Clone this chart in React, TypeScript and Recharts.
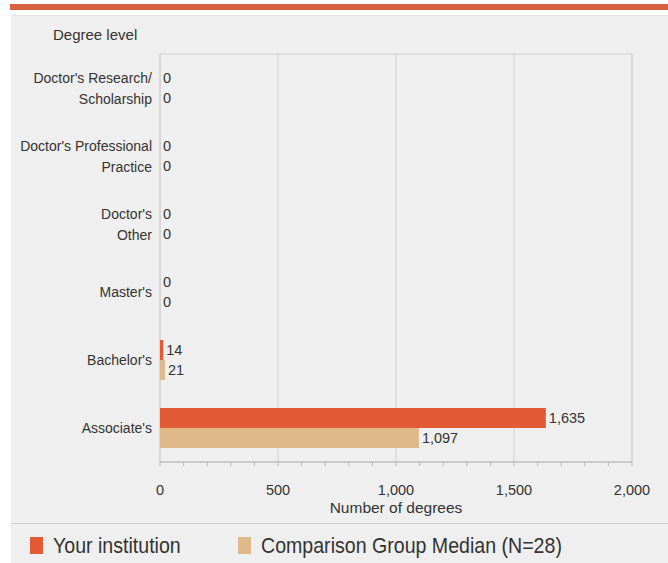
import {
  BarChart,
  Bar,
  XAxis,
  YAxis,
  CartesianGrid,
  ReferenceArea,
  LabelList,
  Legend,
} from "recharts";

// Degree levels, top to bottom
const categories = [
  "Doctor's Research/\nScholarship",
  "Doctor's Professional\nPractice",
  "Doctor's\nOther",
  "Master's",
  "Bachelor's",
  "Associate's",
];
const yourInstitution = [0, 0, 0, 0, 14, 1635];
const comparisonMedian = [0, 0, 0, 0, 21, 1097];

const majorTicks = [0, 500, 1000, 1500, 2000];
const minorTicks = [
  0, 100, 200, 300, 400, 500, 600, 700, 800, 900, 1000, 1100, 1200, 1300, 1400,
  1500, 1600, 1700, 1800, 1900, 2000,
];

const seriesNames = ["Your institution", "Comparison Group Median (N=28)"];
const ORANGE = "#E25B35";
const TAN = "#DFB98A";
const FONT = "'Liberation Sans', Arial, sans-serif";

const data = categories.map((name, i) => ({
  name,
  yours: yourInstitution[i],
  median: comparisonMedian[i],
}));

const fmt = (v: any) => Number(v).toLocaleString("en-US");

function CategoryTick({ x, y, payload }: any) {
  const lines = String(payload.value).split("\n");
  const lh = 21;
  const start = -((lines.length - 1) * lh) / 2;
  return (
    <text
      x={x}
      y={y}
      textAnchor="end"
      fill="#333"
      fontSize={14}
      fontFamily={FONT}
    >
      {lines.map((l, i) => (
        <tspan key={i} x={x} dy={i === 0 ? start + 5 : lh}>
          {l}
        </tspan>
      ))}
    </text>
  );
}

function LegendBox() {
  // legend text in the reference is condensed, so squeeze it horizontally
  const items = [
    { name: seriesNames[0], color: ORANGE, left: 19 },
    { name: seriesNames[1], color: TAN, left: 227 },
  ];
  return (
    <div
      style={{
        position: "relative",
        borderTop: "1px solid #cfcfcf",
        height: 39,
        fontFamily: FONT,
        fontSize: 22,
        color: "#333",
      }}
    >
      {items.map((it) => (
        <div
          key={it.name}
          style={{
            position: "absolute",
            left: it.left,
            top: 13,
            display: "flex",
            alignItems: "center",
          }}
        >
          <div
            style={{
              width: 13,
              height: 17,
              background: it.color,
              marginRight: 10,
            }}
          />
          <span
            style={{
              display: "inline-block",
              whiteSpace: "nowrap",
              transform: "scaleX(0.89)",
              transformOrigin: "left center",
              lineHeight: "17px",
            }}
          >
            {it.name}
          </span>
        </div>
      ))}
    </div>
  );
}

export default function App() {
  return (
    <div
      style={{
        position: "absolute",
        left: 0,
        top: 0,
        width: 668,
        height: 563,
        background: "#fff",
        overflow: "hidden",
      }}
    >
      {/* top accent band */}
      <div
        style={{
          position: "absolute",
          left: 10,
          top: 4,
          width: 658,
          height: 6,
          background: "#D9603C",
        }}
      />
      {/* panel */}
      <div
        style={{
          position: "absolute",
          left: 11,
          top: 15,
          width: 657,
          height: 548,
          background: "#efefef",
          borderTop: "1px solid #e2e2e2",
        }}
      />
      <div
        style={{
          position: "absolute",
          left: 53,
          top: 26,
          fontFamily: FONT,
          fontSize: 15,
          color: "#333",
        }}
      >
        Degree level
      </div>
      <div style={{ position: "absolute", left: 0, top: 0 }}>
        <BarChart
          width={668}
          height={563}
          data={data}
          layout="vertical"
          margin={{ top: 54, right: 36, left: 0, bottom: 0 }}
          barGap={0}
          barSize={20}
        >
          <CartesianGrid
            horizontal={false}
            verticalValues={majorTicks}
            stroke="#cfcfcf"
          />
          <ReferenceArea
            x1={0}
            x2={2000}
            stroke="#cfcfcf"
            fill="none"
            ifOverflow="extendDomain"
          />
          <XAxis
            type="number"
            domain={[0, 2000]}
            ticks={minorTicks}
            interval={0}
            tickFormatter={(v) => (majorTicks.includes(v) ? fmt(v) : "")}
            tickSize={4}
            tickMargin={19}
            height={61}
            stroke="#b5b5b5"
            tick={{ fill: "#333", fontSize: 14.5, fontFamily: FONT }}
            label={{
              value: "Number of degrees",
              position: "insideBottom",
              offset: 10,
              fill: "#333",
              fontSize: 15.5,
              fontFamily: FONT,
            }}
          />
          <YAxis
            type="category"
            dataKey="name"
            width={160}
            axisLine={false}
            tickLine={false}
            interval={0}
            tick={<CategoryTick />}
          />
          <Legend
            verticalAlign="bottom"
            height={40}
            wrapperStyle={{ left: 11, width: 657 }}
            content={() => <LegendBox />}
          />
          <Bar
            dataKey="yours"
            name={seriesNames[0]}
            fill={ORANGE}
            minPointSize={0.01}
            isAnimationActive={false}
          >
            <LabelList
              dataKey="yours"
              position="right"
              offset={3}
              formatter={fmt}
              fill="#333"
              fontSize={14.5}
              fontFamily={FONT}
            />
          </Bar>
          <Bar
            dataKey="median"
            name={seriesNames[1]}
            fill={TAN}
            minPointSize={0.01}
            isAnimationActive={false}
          >
            <LabelList
              dataKey="median"
              position="right"
              offset={3}
              formatter={fmt}
              fill="#333"
              fontSize={14.5}
              fontFamily={FONT}
            />
          </Bar>
        </BarChart>
      </div>
    </div>
  );
}
